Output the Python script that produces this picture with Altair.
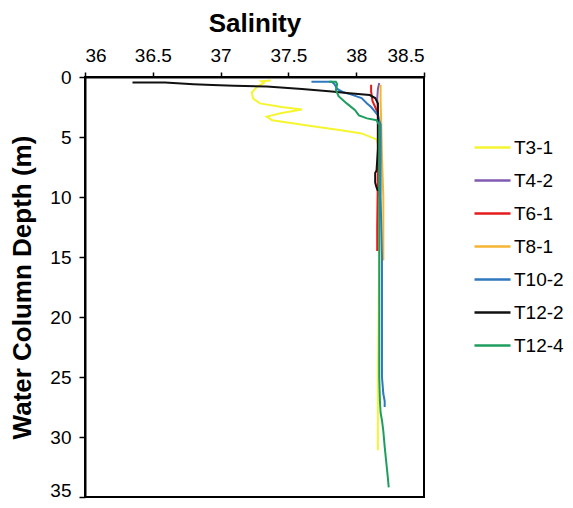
import altair as alt
import pandas as pd

# ---- data ----
names = ["T3-1", "T4-2", "T6-1", "T8-1", "T10-2", "T12-2", "T12-4"]
colors = ["#F5F530", "#7F5AB0", "#E41A1C", "#F5B533", "#2E78C0", "#111111", "#1E9E5E"]

t3_1_sal = [37.37, 37.30, 37.32, 37.27, 37.23, 37.24, 37.29, 37.45, 37.60, 37.45, 37.34, 37.38, 37.68, 37.90, 38.04, 38.15, 38.17, 38.17, 38.16, 38.16, 38.16]
t3_1_dep = [0.3, 0.35, 0.5, 0.8, 1.3, 1.8, 2.2, 2.5, 2.7, 3.0, 3.3, 3.6, 4.1, 4.45, 4.7, 5.2, 6.0, 15.0, 25.0, 28.6, 31.1]

t4_2_sal = [38.17, 38.16, 38.155, 38.16, 38.17, 38.17]
t4_2_dep = [0.5, 1.0, 1.8, 2.7, 5.0, 10.0]

t6_1_sal = [38.11, 38.11, 38.12, 38.14, 38.16, 38.16, 38.155, 38.155]
t6_1_dep = [0.65, 1.2, 2.0, 2.5, 3.0, 8.0, 12.5, 14.5]

t8_1_sal = [38.18, 38.18, 38.185, 38.19, 38.20, 38.20, 38.20, 38.20]
t8_1_dep = [0.65, 2.0, 4.0, 6.6, 10.0, 12.0, 14.0, 15.3]

t10_2_sal = [37.67, 37.82, 37.84, 37.86, 37.90, 37.96, 38.04, 38.08, 38.11, 38.14, 38.16, 38.18, 38.18, 38.19, 38.19, 38.19, 38.20, 38.21, 38.21]
t10_2_dep = [0.4, 0.4, 0.6, 1.0, 1.25, 1.45, 1.75, 2.2, 2.5, 2.9, 3.2, 4.0, 10.0, 15.0, 19.4, 25.0, 26.4, 27.0, 27.5]

t12_2_sal = [36.35, 36.59, 36.80, 36.94, 37.10, 37.34, 37.60, 37.82, 37.95, 38.10, 38.14, 38.16, 38.16, 38.16, 38.15, 38.14, 38.14, 38.15, 38.16]
t12_2_dep = [0.45, 0.45, 0.6, 0.67, 0.72, 0.8, 1.0, 1.2, 1.35, 1.5, 1.75, 2.2, 3.8, 6.0, 7.8, 8.0, 8.8, 9.2, 9.5]

t12_4_sal = [37.80, 37.85, 37.86, 37.85, 37.87, 37.93, 37.99, 38.02, 38.08, 38.15, 38.17, 38.17, 38.17, 38.17, 38.17, 38.175, 38.18, 38.19, 38.20, 38.21, 38.22, 38.23, 38.24]
t12_4_dep = [0.4, 0.4, 0.6, 1.08, 1.6, 2.2, 2.75, 3.2, 3.45, 3.6, 4.0, 8.0, 15.0, 20.0, 25.0, 27.0, 28.0, 28.6, 29.5, 30.8, 31.9, 33.0, 34.2]

x_ticks = [36, 36.5, 37, 37.5, 38, 38.5]
y_ticks = [0, 5, 10, 15, 20, 25, 30, 35]

profiles = [
    (t3_1_sal, t3_1_dep), (t4_2_sal, t4_2_dep), (t6_1_sal, t6_1_dep),
    (t8_1_sal, t8_1_dep), (t10_2_sal, t10_2_dep), (t12_2_sal, t12_2_dep),
    (t12_4_sal, t12_4_dep),
]

rows = []
for name, (sal, dep) in zip(names, profiles):
    for i, (s, d) in enumerate(zip(sal, dep)):
        rows.append({"series": name, "salinity": s, "depth": d, "idx": i})
df = pd.DataFrame(rows)

FONT = "Liberation Sans"

chart = alt.Chart(df).mark_line(strokeWidth=2, clip=True).encode(
    x=alt.X("salinity:Q",
            scale=alt.Scale(domain=[36, 38.5], nice=False, zero=False),
            axis=alt.Axis(orient="top", values=x_ticks, format="~g", title="Salinity",
                          titleFontSize=26, titleFontWeight="bold", titlePadding=10,
                          labelFontSize=19, labelPadding=7, tickSize=5)),
    y=alt.Y("depth:Q",
            scale=alt.Scale(domain=[0, 35], reverse=True, nice=False, zero=False),
            axis=alt.Axis(values=y_ticks, title="Water Column Depth (m)",
                          titleFontSize=26, titleFontWeight="bold", titlePadding=14,
                          labelFontSize=19, labelPadding=8, tickSize=6,
                          labelOffset=alt.condition("datum.value == 35", alt.value(-7), alt.value(0)))),
    color=alt.Color("series:N",
                    scale=alt.Scale(domain=names, range=colors),
                    legend=alt.Legend(title=None, orient="none", legendX=388, legendY=51,
                                      symbolType="stroke", symbolSize=1296, symbolStrokeWidth=2.5,
                                      labelFontSize=19, labelOffset=2, rowPadding=3, padding=0,
                                      labelFont=FONT, labelColor="black")),
    order=alt.Order("idx:Q"),
).properties(
    width=339, height=420,
    padding={"left": 77, "top": 69, "right": 141, "bottom": 3},
    autosize=alt.AutoSizeParams(type="none"),
).configure_view(
    stroke="black", strokeWidth=2
).configure_axis(
    grid=False, domainColor="black", domainWidth=2, tickColor="black", tickWidth=1.5,
    labelFont=FONT, titleFont=FONT, labelColor="black", titleColor="black",
)

chart.save("out.html", embed_options={"renderer": "svg", "actions": False})
